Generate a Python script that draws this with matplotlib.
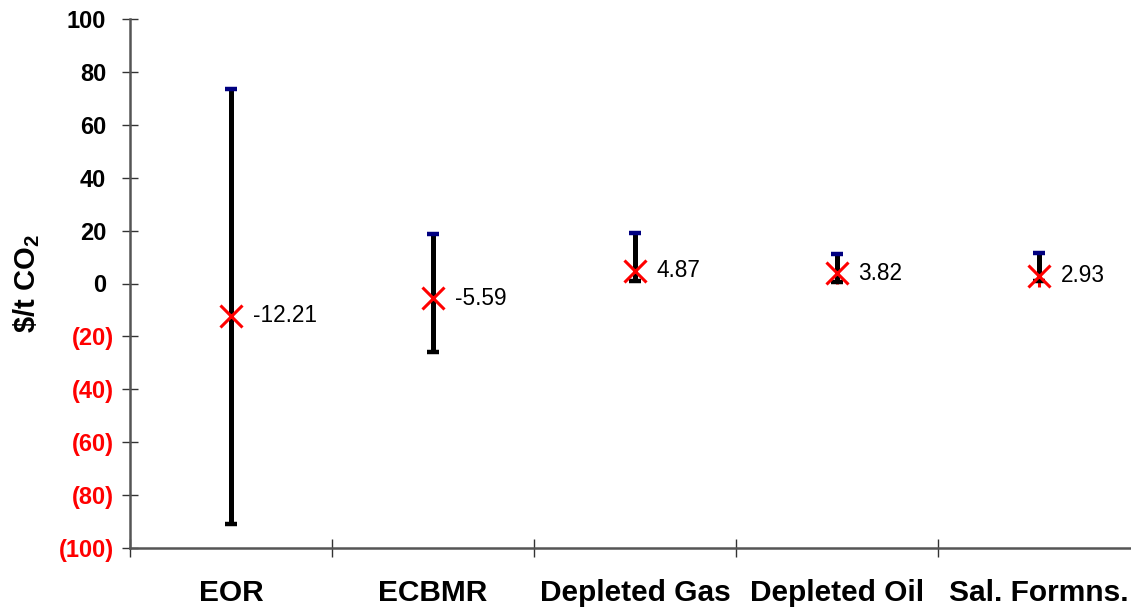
import matplotlib
matplotlib.use("Agg")
import matplotlib.pyplot as plt
import matplotlib.transforms as mtransforms
import numpy as np

plt.rcParams['font.family'] = ['Liberation Sans', 'DejaVu Sans']

categories = ["EOR", "ECBMR", "Depleted Gas", "Depleted Oil", "Sal. Formns."]
high_vals = [73.5, 18.7, 19.2, 11.2, 11.6]
low_vals = [-91.0, -25.8, 1.1, 0.7, 1.1]
mean_vals = [-12.21, -5.59, 4.87, 3.82, 2.93]
yticks = [-100, -80, -60, -40, -20, 0, 20, 40, 60, 80, 100]

fig = plt.figure(figsize=(11.31, 6.09), dpi=100)
ax = fig.add_axes([130/1131, 61/609, 1010/1131, 529/609])

x = np.arange(len(categories))
ax.vlines(x, low_vals, high_vals, color='black', linewidth=3.6, zorder=2)
ax.plot(x, high_vals, linestyle='none', marker='_', markersize=9, markeredgewidth=3.2,
        color='#000080', zorder=3)
ax.plot(x, low_vals, linestyle='none', marker='_', markersize=9, markeredgewidth=3.2,
        color='black', zorder=3)
ax.plot(x, mean_vals, linestyle='none', marker='x', markersize=16, markeredgewidth=2.2,
        color='#FF0000', zorder=4)
ax.plot(x, mean_vals, linestyle='none', marker='|', markersize=16, markeredgewidth=2.2,
        color='#FF0000', zorder=1)
for xi, m in zip(x, mean_vals):
    ax.annotate(f"{m:.2f}", (xi, m), xytext=(15.5, 0), textcoords='offset points',
                ha='left', va='center', fontsize=16.3, color='black')

ax.set_xlim(-0.5, len(categories) - 0.5)
ax.set_ylim(-100, 100)

ax.set_yticks(yticks)
ylabels = [f"({abs(v)})" if v < 0 else f"{v}" for v in yticks]
ax.set_yticklabels(ylabels, fontsize=17, fontweight='bold')
ax.tick_params(axis='y', direction='inout', length=11, width=1, pad=6, color='#333333')
shift = mtransforms.ScaledTranslation(-8/100, 0, fig.dpi_scale_trans)
for lbl, v in zip(ax.get_yticklabels(), yticks):
    if v < 0:
        lbl.set_color('#FF0000')
    else:
        lbl.set_color('black')
        lbl.set_transform(lbl.get_transform() + shift)

ax.set_xticks(x)
ax.set_xticklabels(categories, fontsize=21.5, fontweight='bold')
ax.tick_params(axis='x', which='major', length=0, pad=22)
ax.set_xticks(np.arange(-0.5, len(categories) + 0.5, 1), minor=True)
ax.tick_params(axis='x', which='minor', direction='inout', length=13, width=1, color='#333333')

for s in ['top', 'right']:
    ax.spines[s].set_visible(False)
for s in ['left', 'bottom']:
    ax.spines[s].set_color('#555555')
    ax.spines[s].set_linewidth(1.8)

ax.set_ylabel(r"\$/t CO$_\mathregular{2}$", fontsize=21, fontweight='bold', labelpad=12)

fig.savefig("out.png", dpi=100)
